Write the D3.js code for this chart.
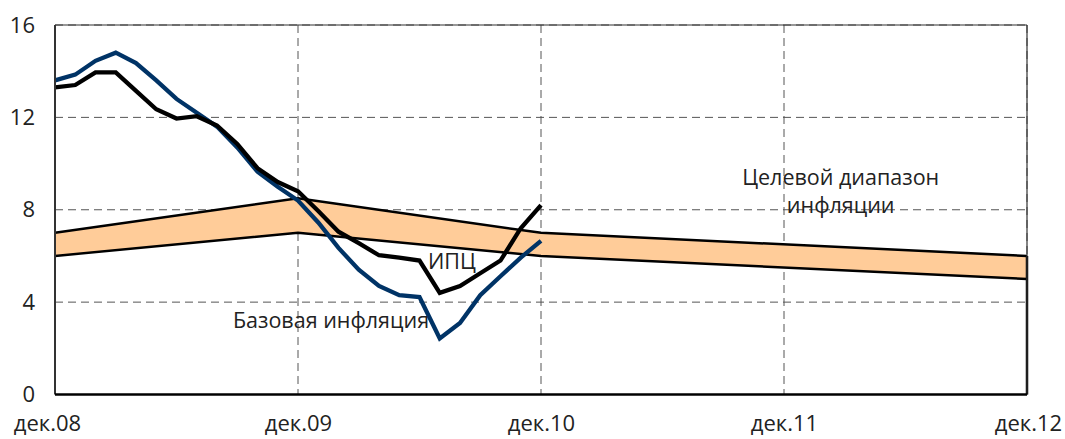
<!DOCTYPE html>
<html><head><meta charset="utf-8">
<script src="https://cdn.jsdelivr.net/npm/d3@7/dist/d3.min.js"></script>
<style>body{margin:0;background:#fff}svg{display:block}text{font-family:"Open Sans",sans-serif;fill:#222}</style>
</head><body><svg id="c" width="1065" height="439"></svg>
<script>
// monthly months index 0 = дек.08 ... 24 = дек.10
const cpi = [13.3,13.4,13.95,13.95,13.15,12.35,11.95,12.05,11.65,10.85,9.8,9.2,8.8,7.95,7.05,6.55,6.03,5.93,5.8,4.4,4.7,5.25,5.8,7.2,8.2];
const core = [13.6,13.85,14.45,14.8,14.35,13.6,12.8,12.2,11.6,10.7,9.65,9.0,8.4,7.45,6.35,5.4,4.7,4.3,4.22,2.43,3.1,4.3,5.12,5.93,6.65];
// target range (month index, lower, upper)
const bandMonths = [0,12,24,48];
const bandLow = [6,7,6,5];
const bandHigh = [7,8.5,7,6];
const xTickMonths = [0,12,24,36,48];
const xTickLabels = ["дек.08","дек.09","дек.10","дек.11","дек.12"];
const yTicks = [0,4,8,12,16];

const svg = d3.select("#c");
const L=55,R=1027,T=25,B=394.5;
const x = d3.scaleLinear().domain([0,48]).range([L,R]);
const y = d3.scaleLinear().domain([0,16]).range([B,T]);

// gridlines
const g = svg.append("g");
g.selectAll(".hg").data(yTicks.filter(d=>d>0)).join("line")
 .attr("x1",L).attr("x2",R).attr("y1",d=>y(d)).attr("y2",d=>y(d))
 .attr("stroke","#555").attr("stroke-width",1).attr("stroke-dasharray","8,5");
g.selectAll(".vg").data(xTickMonths.filter(d=>d>0)).join("line")
 .attr("x1",d=>x(d)).attr("x2",d=>x(d)).attr("y1",T).attr("y2",B)
 .attr("stroke","#555").attr("stroke-width",1).attr("stroke-dasharray","8,5");

// band
const band = bandMonths.map((m,i)=>({m,lo:bandLow[i],hi:bandHigh[i]}));
svg.append("path").datum(band)
 .attr("d",d3.area().x(d=>x(d.m)).y0(d=>y(d.lo)).y1(d=>y(d.hi)))
 .attr("fill","#ffcc99");
svg.append("path").datum(band).attr("fill","none").attr("stroke","#000").attr("stroke-width",2.5)
 .attr("d",d3.line().x(d=>x(d.m)).y(d=>y(d.hi)));
svg.append("path").datum(band).attr("fill","none").attr("stroke","#000").attr("stroke-width",2.5)
 .attr("d",d3.line().x(d=>x(d.m)).y(d=>y(d.lo)));
const last = band[band.length-1];
svg.append("line").attr("x1",x(last.m)).attr("x2",x(last.m)).attr("y1",y(last.hi)).attr("y2",y(0))
 .attr("stroke","#000").attr("stroke-width",2.5);

// lines
const ln = d3.line().x((d,i)=>x(i)).y(d=>y(d));
svg.append("path").datum(core).attr("d",ln).attr("fill","none").attr("stroke","#003366").attr("stroke-width",4.3).attr("stroke-linejoin","miter");
svg.append("path").datum(cpi).attr("d",ln).attr("fill","none").attr("stroke","#000").attr("stroke-width",4.3).attr("stroke-linejoin","miter");

// frame top/right
svg.append("line").attr("x1",L).attr("x2",R).attr("y1",T).attr("y2",T).attr("stroke","#333").attr("stroke-width",1.2);
svg.append("line").attr("x1",R).attr("x2",R).attr("y1",T).attr("y2",B).attr("stroke","#333").attr("stroke-width",1.2);

// axes
const ya = svg.append("g").attr("transform",`translate(${L},0)`)
 .call(d3.axisLeft(y).tickValues(yTicks).tickSize(0).tickPadding(20).tickFormat(d3.format("d")));
ya.select(".domain").attr("stroke","#333").attr("stroke-width",2).attr("d",`M0,${T}V${B}`);
ya.selectAll("text").attr("font-size",22).attr("font-family","Open Sans").attr("fill","#222");

const xa = svg.append("g").attr("transform",`translate(0,${B})`)
 .call(d3.axisBottom(x).tickValues(xTickMonths).tickSize(0).tickPadding(21).tickFormat((d,i)=>xTickLabels[i]));
xa.select(".domain").attr("stroke","#000").attr("stroke-width",2.5).attr("d",`M${L},0H${R}`);
xa.selectAll("text").attr("font-size",22).attr("font-family","Open Sans").attr("fill","#222")
 .attr("dx",(d,i)=>i===0?-8:(i===4?1:0));

// annotations
const ann = [
 {t:"Целевой диапазон",m:38.8,v:9.06},
 {t:"инфляции",m:38.8,v:7.85},
 {t:"ИПЦ",m:19.6,v:5.45},
 {t:"Базовая инфляция",m:13.63,v:2.88}
];
svg.selectAll(".ann").data(ann).join("text")
 .attr("x",d=>x(d.m)).attr("y",d=>y(d.v)).attr("text-anchor","middle")
 .attr("font-size",21.5).text(d=>d.t);
</script></body></html>
